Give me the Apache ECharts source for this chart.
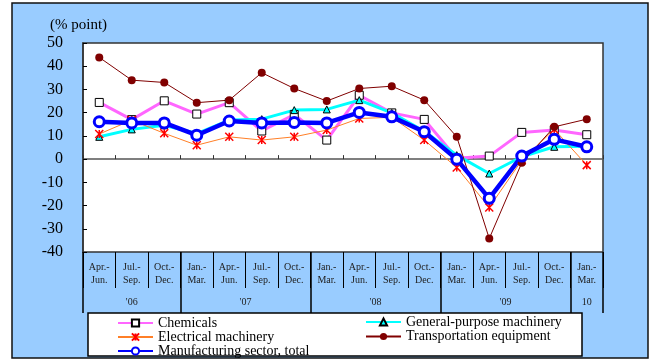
<!DOCTYPE html>
<html>
<head>
<meta charset="utf-8">
<script src="https://cdn.jsdelivr.net/npm/echarts@6/dist/echarts.min.js"></script>
<style>
  html, body { margin: 0; padding: 0; background: #fff; }
  #chart { width: 651px; height: 360px; }
</style>
</head>
<body>
<div id="chart"></div>
<script>
// quarter labels, year groups
const quarters = [
  "Apr.-\nJun.", "Jul.-\nSep.", "Oct.-\nDec.",
  "Jan.-\nMar.", "Apr.-\nJun.", "Jul.-\nSep.", "Oct.-\nDec.",
  "Jan.-\nMar.", "Apr.-\nJun.", "Jul.-\nSep.", "Oct.-\nDec.",
  "Jan.-\nMar.", "Apr.-\nJun.", "Jul.-\nSep.", "Oct.-\nDec.",
  "Jan.-\nMar."
];
const yearLabels = ["'06", "'07", "'08", "'09", "10"];
const yearSpans = [3, 4, 4, 4, 1];

// series values (% point)
const chemicals = [24.4, 17.0, 25.1, 19.4, 24.3, 12.1, 19.2, 8.2, 27.5, 19.9, 17.1, 0.4, 1.3, 11.5, 12.5, 10.5];
const generalPurpose = [9.6, 12.8, 14.6, 11.0, 16.8, 17.2, 21.1, 21.4, 25.4, 19.9, 12.0, 1.7, -6.2, 1.0, 5.3, 5.5];
const electrical = [10.8, 16.8, 11.1, 6.0, 9.6, 8.2, 9.6, 12.5, 17.5, 18.0, 8.2, -3.6, -20.8, -0.5, 12.8, -2.6];
const transport = [43.8, 34.0, 33.0, 24.3, 25.4, 37.2, 30.4, 25.0, 30.4, 31.4, 25.4, 9.6, -34.2, -1.6, 13.9, 17.2];
const manufacturing = [16.1, 15.6, 15.6, 10.3, 16.4, 15.6, 15.8, 15.6, 20.1, 18.2, 11.8, -0.1, -16.9, 1.3, 8.5, 5.3];

const yTicks = [-40, -30, -20, -10, 0, 10, 20, 30, 40, 50];

// where the year groups start and where their labels sit
let yearStarts = [];
let yearCenters = {};
let acc = 0;
yearSpans.forEach((s, i) => {
  yearStarts.push(acc);
  yearCenters[acc + s / 2] = yearLabels[i];
  acc += s;
});

const FONT = "'Liberation Serif', 'Times New Roman', serif";

var chart = echarts.init(document.getElementById('chart'), null, { renderer: 'canvas' });

const gridPos = { left: 83, top: 43, right: 48, bottom: 108 };

var option = {
  animation: false,
  textStyle: { fontFamily: FONT, color: '#000' },
  title: {
    text: '(% point)',
    left: 45, top: 13,
    textStyle: { fontFamily: FONT, fontSize: 15, fontWeight: 'normal', color: '#000' }
  },
  graphic: [
    {
      type: 'rect', z: -10, silent: true,
      shape: { x: 12, y: 3, width: 636, height: 355 },
      style: { fill: '#99ccff', stroke: '#111', lineWidth: 1.5 }
    },
    {
      type: 'rect', z: 0, silent: true,
      shape: { x: 88, y: 313, width: 494, height: 43 },
      style: { fill: '#fff', stroke: '#000', lineWidth: 1.5 }
    }
  ],
  grid: Object.assign({
    show: true, backgroundColor: '#fff', borderColor: '#333', borderWidth: 1.5
  }, gridPos),
  legend: [
    {
      orient: 'vertical', left: 117, top: 316, padding: 0, height: 44,
      itemWidth: 35, itemHeight: 9, itemGap: 0,
      textStyle: { fontFamily: FONT, fontSize: 14, color: '#000', lineHeight: 13.5 },
      data: ['Chemicals', 'Electrical machinery', 'Manufacturing sector, total']
    },
    {
      orient: 'vertical', left: 365, top: 315, padding: 0, height: 44,
      itemWidth: 35, itemHeight: 9, itemGap: 0.5,
      textStyle: { fontFamily: FONT, fontSize: 14, color: '#000', lineHeight: 13.5 },
      data: ['General-purpose machinery', 'Transportation equipment']
    }
  ],
  xAxis: [
    { // quarter labels and short separators
      type: 'category', data: quarters, position: 'bottom', gridIndex: 0,
      axisLine: { show: false, onZero: false },
      axisTick: { show: true, length: 36, lineStyle: { color: '#000', width: 1 } },
      axisLabel: { fontFamily: FONT, fontSize: 10, color: '#222', lineHeight: 13, margin: 9, interval: 0 }
    },
    { // long separators at year boundaries
      type: 'category', data: quarters, position: 'bottom',
      axisLine: { show: false, onZero: false },
      axisTick: {
        show: true, length: 61,
        interval: (idx) => yearStarts.indexOf(idx) >= 0,
        lineStyle: { color: '#000', width: 1.5 }
      },
      axisLabel: { show: false }
    },
    { // year labels
      type: 'value', min: 0, max: quarters.length, interval: 0.5, position: 'bottom',
      axisLine: { show: false, onZero: false },
      axisTick: { show: false },
      splitLine: { show: false },
      axisLabel: {
        fontFamily: FONT, fontSize: 10, color: '#222', margin: 45,
        showMinLabel: true, showMaxLabel: true,
        formatter: (v) => yearCenters[v] || ''
      }
    },
    { // zero line with small ticks
      type: 'category', data: quarters, position: 'bottom',
      axisLine: { show: true, onZero: true, lineStyle: { color: '#555', width: 1.5 } },
      axisTick: { show: true, inside: true, length: 4, lineStyle: { color: '#333' } },
      axisLabel: { show: false }
    }
  ],
  yAxis: {
    type: 'value', min: yTicks[0], max: yTicks[yTicks.length - 1], interval: 10,
    axisLine: { show: true, lineStyle: { color: '#333', width: 1.5 } },
    axisTick: { show: true, inside: true, length: 4, lineStyle: { color: '#000' } },
    splitLine: { show: false },
    axisLabel: { fontFamily: FONT, fontSize: 16, color: '#000', margin: 20 }
  },
  series: [
    {
      name: 'Chemicals', type: 'line', data: chemicals, xAxisIndex: 0,
      symbol: 'rect', symbolSize: 8,
      lineStyle: { color: '#ff66ff', width: 3 },
      itemStyle: { color: '#fff', borderColor: '#000', borderWidth: 1 }
    },
    {
      name: 'General-purpose machinery', type: 'line', data: generalPurpose, xAxisIndex: 0,
      symbol: 'triangle', symbolSize: 7,
      lineStyle: { color: '#00ffff', width: 3 },
      itemStyle: { color: '#00ffff', borderColor: '#000', borderWidth: 1 }
    },
    {
      name: 'Electrical machinery', type: 'line', data: electrical, xAxisIndex: 0,
      symbol: 'path://M0,0L10,10M10,0L0,10M5,0L5,10', symbolSize: 8,
      lineStyle: { color: '#ff7f27', width: 1 },
      itemStyle: { color: '#ff0000', borderColor: '#ff0000', borderWidth: 1.5 }
    },
    {
      name: 'Transportation equipment', type: 'line', data: transport, xAxisIndex: 0,
      symbol: 'circle', symbolSize: 8,
      lineStyle: { color: '#800000', width: 1 },
      itemStyle: { color: '#800000' }
    },
    {
      name: 'Manufacturing sector, total', type: 'line', data: manufacturing, xAxisIndex: 0,
      symbol: 'circle', symbolSize: 10,
      lineStyle: { color: '#0000ff', width: 4.5 },
      itemStyle: { color: '#fff', borderColor: '#0000ff', borderWidth: 3 }
    }
  ]
};

chart.setOption(option);
window.addEventListener('resize', chart.resize);
</script>
</body>
</html>
